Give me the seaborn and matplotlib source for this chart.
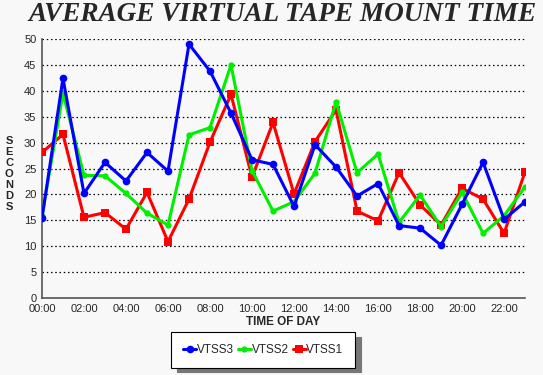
import pandas as pd
import numpy as np
import matplotlib
matplotlib.use('Agg')
import matplotlib.pyplot as plt
import seaborn as sns

# 数据
hours = list(range(24))
hour_labels = ['00:00', '02:00', '04:00', '06:00', '08:00', '10:00',
               '12:00', '14:00', '16:00', '18:00', '20:00', '22:00']

vtss3 = [15.4, 42.4, 20.2, 26.2, 22.6, 28.1, 24.5, 49.0, 43.8, 35.7, 26.7, 25.8,
         17.7, 29.6, 25.3, 19.7, 22.1, 14.0, 13.5, 10.2, 18.1, 26.2, 15.2, 18.6]
vtss2 = [15.8, 39.5, 23.7, 23.6, 20.2, 16.4, 14.1, 31.5, 32.9, 45.0, 24.6, 16.8,
         18.6, 24.1, 37.9, 24.2, 27.8, 14.6, 19.9, 13.8, 20.4, 12.5, 15.9, 21.5]
vtss1 = [28.1, 31.6, 15.6, 16.5, 13.3, 20.4, 10.9, 19.1, 30.1, 39.3, 23.3, 33.9,
         20.1, 30.2, 36.3, 16.8, 14.9, 24.2, 18.0, 14.1, 21.2, 19.1, 12.5, 24.4]

series_names = ['VTSS1', 'VTSS2', 'VTSS3']
colors = {'VTSS3': '#0000ff', 'VTSS2': '#00ee00', 'VTSS1': '#ff0000'}
markers = {'VTSS3': 'o', 'VTSS2': 'o', 'VTSS1': 's'}
msizes = {'VTSS3': 5.5, 'VTSS2': 4.5, 'VTSS1': 6}

df = pd.DataFrame({
    'hour': hours * 3,
    'seconds': vtss1 + vtss2 + vtss3,
    'series': ['VTSS1'] * 24 + ['VTSS2'] * 24 + ['VTSS3'] * 24,
})

sns.set_style('white')
plt.rcParams['font.family'] = ['Liberation Sans', 'DejaVu Sans']

bg = '#f8f8f8'
fig = plt.figure(figsize=(5.43, 3.75), dpi=100, facecolor=bg)
ax = fig.add_axes([0.0773, 0.205, 0.8897, 0.691], facecolor=bg)

# 先画红，再绿，最后蓝
for name in series_names:
    sub = df[df['series'] == name]
    sns.lineplot(data=sub, x='hour', y='seconds', ax=ax, color=colors[name],
                 marker=markers[name], markersize=msizes[name], linewidth=2.2,
                 markeredgewidth=0, label=name, zorder=3)

ax.set_xlim(0, 23)
ax.set_ylim(0, 50)
ax.set_xticks(hours[::2])
ax.set_xticklabels(hour_labels, fontsize=8)
ax.set_yticks(np.arange(0, 51, 5))
ax.set_yticklabels([str(v) for v in range(0, 51, 5)], fontsize=8)
ax.tick_params(axis='both', length=3, width=0.8, color='#444444', pad=1)

ax.yaxis.grid(True, linestyle=(0, (1.2, 2.2)), color='black', linewidth=0.9)
ax.xaxis.grid(False)
for s in ['top', 'right']:
    ax.spines[s].set_visible(False)
for s in ['left', 'bottom']:
    ax.spines[s].set_color('#555555')
    ax.spines[s].set_linewidth(1.2)

ax.set_xlabel('TIME OF DAY', fontsize=8.5, fontweight='bold', labelpad=2)
ax.set_ylabel('')
fig.text(0.017, 0.537, '\n'.join('SECONDS'), fontsize=8, fontweight='bold',
         ha='center', va='center', linespacing=1.12)

fig.text(0.52, 0.962, 'AVERAGE VIRTUAL TAPE MOUNT TIME', fontsize=19.6,
         fontweight='bold', style='italic', family='Liberation Serif',
         ha='center', va='center')

# 图例顺序：VTSS3, VTSS2, VTSS1
handles, labels = ax.get_legend_handles_labels()
order = [labels.index(n) for n in ['VTSS3', 'VTSS2', 'VTSS1']]
leg = ax.legend([handles[i] for i in order], [labels[i] for i in order],
                loc='center', bbox_to_anchor=(0.485, 0.066), bbox_transform=fig.transFigure,
                ncol=3, fontsize=8.5, frameon=True, fancybox=False,
                shadow={'color': '#777777', 'alpha': 1, 'ox': 4, 'oy': -3},
                handlelength=1.1, handletextpad=0.05, columnspacing=0.35,
                borderpad=1.0, borderaxespad=0, edgecolor='black')
leg.get_frame().set_linewidth(0.8)
leg.get_frame().set_facecolor('white')

plt.savefig('out.png', dpi=100, facecolor=bg)
